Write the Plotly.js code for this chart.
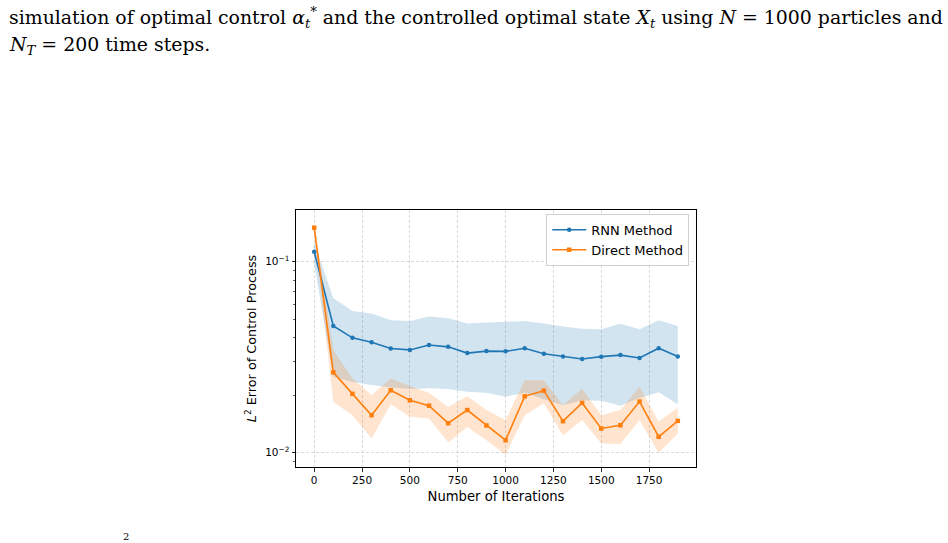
<!DOCTYPE html>
<html>
<head>
<meta charset="utf-8">
<script src="https://cdn.plot.ly/plotly-3.0.1.min.js"></script>
<style>html,body{margin:0;padding:0;background:#fff;}#chart{width:948px;height:543px;}</style>
</head>
<body>
<div id="chart"></div>
<script>
const iterations = [0,100,200,300,400,500,600,700,800,900,1000,1100,1200,1300,1400,1500,1600,1700,1800,1900];

const rnnMean  = [0.1128,0.0461,0.0399,0.0378,0.0351,0.0345,0.0366,0.0358,0.0332,0.0340,0.0339,0.0352,0.0329,0.0319,0.0309,0.0318,0.0324,0.0313,0.0352,0.0319];
const rnnUpper = [0.126,0.0643,0.0551,0.0535,0.0494,0.0489,0.0516,0.0505,0.0475,0.0481,0.0487,0.0489,0.0475,0.0458,0.0446,0.0443,0.0473,0.0442,0.0493,0.0460];
const rnnLower = [0.098,0.0249,0.0234,0.0226,0.0219,0.0215,0.0217,0.0215,0.0208,0.0206,0.0196,0.0206,0.0190,0.0177,0.0188,0.0187,0.0176,0.0193,0.0207,0.0179];

const directMean  = [0.1507,0.0263,0.0203,0.0157,0.0212,0.0188,0.0176,0.01425,0.0167,0.01386,0.0116,0.0197,0.0211,0.0146,0.0182,0.01337,0.0139,0.0185,0.0121,0.01465];
const directUpper = [0.163,0.0344,0.0244,0.0200,0.0244,0.0223,0.0206,0.0173,0.0197,0.0167,0.0148,0.0239,0.0239,0.0177,0.0216,0.0157,0.0167,0.0221,0.0145,0.0172];
const directLower = [0.139,0.0184,0.0157,0.01184,0.0179,0.0154,0.0151,0.01128,0.01363,0.0116,0.0097,0.0157,0.0181,0.0123,0.0148,0.01114,0.0111,0.0148,0.00995,0.0126];

const xTicks = [0,250,500,750,1000,1250,1500,1750];
const yTickVals = [0.01,0.1];
const yTickText = ['10<sup>−2</sup>','10<sup>−1</sup>'];

const blue = '#1f77b4', orange = '#ff7f0e';

function band(upper, lower, fillcolor) {
  return {
    x: iterations.concat(iterations.slice().reverse()),
    y: upper.concat(lower.slice().reverse()),
    type: 'scatter', mode: 'lines', fill: 'toself', fillcolor: fillcolor,
    line: {width: 0, color: 'rgba(0,0,0,0)'}, hoverinfo: 'skip', showlegend: false
  };
}

const data = [
  band(rnnUpper, rnnLower, 'rgba(31,119,180,0.2)'),
  band(directUpper, directLower, 'rgba(255,127,14,0.2)'),
  {x: iterations, y: rnnMean, type: 'scatter', mode: 'lines+markers', name: 'RNN Method',
   line: {color: blue, width: 1.6}, marker: {color: blue, size: 4.5, symbol: 'circle'}},
  {x: iterations, y: directMean, type: 'scatter', mode: 'lines+markers', name: 'Direct Method',
   line: {color: orange, width: 1.6}, marker: {color: orange, size: 4.5, symbol: 'square'}}
];

const F = 'DejaVu Sans, sans-serif';
const serif = 'DejaVu Serif, Liberation Serif, serif';
function px2x(px){ return (px-296)/400; }
function px2y(py){ return (467-py)/257; }

const layout = {
  width: 948, height: 543,
  margin: {l: 296, r: 252, t: 210, b: 76},
  paper_bgcolor: '#fff', plot_bgcolor: '#fff',
  showlegend: true,
  font: {family: F, size: 10, color: '#000'},
  xaxis: {
    range: [-95, 1995], tickvals: xTicks, ticks: 'outside', ticklen: 3.5, tickwidth: 0.8, tickcolor: '#000',
    showline: true, mirror: true, linecolor: '#000', linewidth: 1,
    showgrid: true, gridcolor: '#d0d0d0', griddash: '3px,2px', gridwidth: 0.8, zeroline: false,
    tickfont: {family: F, size: 10.5},
    title: {text: 'Number of Iterations', font: {family: F, size: 13.2}, standoff: 6}
  },
  yaxis: {
    type: 'log', range: [Math.log10(0.0084), Math.log10(0.1866)],
    tickvals: yTickVals, ticktext: yTickText, ticks: 'outside', ticklen: 3.5, tickwidth: 0.8, tickcolor: '#000',
    minor: {ticks: 'outside', ticklen: 2, tickwidth: 0.6, tickcolor: '#000', dtick: 'D1', showgrid: false},
    showline: true, mirror: true, linecolor: '#000', linewidth: 1,
    showgrid: true, gridcolor: '#d0d0d0', griddash: '3px,2px', gridwidth: 0.8, zeroline: false,
    tickfont: {family: F, size: 10.5},
    title: {text: '<i>L</i><sup>2</sup> Error of Control Process', font: {family: F, size: 12.8}, standoff: 5}
  },
  legend: {
    x: 0.983, y: 0.985, xanchor: 'right', yanchor: 'top',
    bgcolor: 'rgba(255,255,255,0.85)', bordercolor: '#d0d0d0', borderwidth: 1,
    font: {family: F, size: 13}, itemwidth: 34, tracegroupgap: 0
  },
  annotations: [
    {xref: 'paper', yref: 'paper', x: px2x(7), y: px2y(17), xanchor: 'left', yanchor: 'middle', showarrow: false,
     font: {family: serif, size: 18.9, color: '#000'},
     text: 'simulation of optimal control <i>α</i><sub><i>t</i></sub><sup>*</sup> and the controlled optimal state <i>X</i><sub><i>t</i></sub> using <i>N</i> = 1000 particles and'},
    {xref: 'paper', yref: 'paper', x: px2x(7), y: px2y(45), xanchor: 'left', yanchor: 'middle', showarrow: false,
     font: {family: serif, size: 18.9, color: '#000'},
     text: '<i>N</i><sub><i>T</i></sub> = 200 time steps.'},
    {xref: 'paper', yref: 'paper', x: px2x(126), y: px2y(536), xanchor: 'center', yanchor: 'middle', showarrow: false,
     font: {family: serif, size: 10, color: '#000'}, text: '2'}
  ]
};

Plotly.newPlot('chart', data, layout, {displayModeBar: false, staticPlot: true});
</script>
</body>
</html>
